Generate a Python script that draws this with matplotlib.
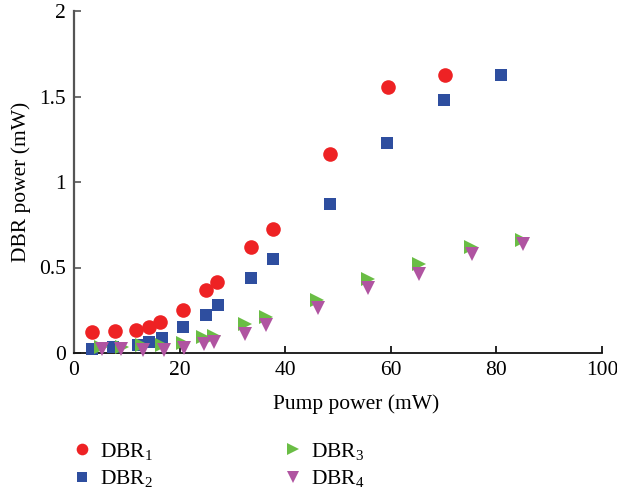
import matplotlib
matplotlib.use("Agg")
import matplotlib.pyplot as plt

plt.rcParams['font.family'] = ['Liberation Serif', 'DejaVu Serif']
plt.rcParams['mathtext.fontset'] = 'custom'
plt.rcParams['mathtext.rm'] = 'Liberation Serif'
plt.rcParams['mathtext.it'] = 'Liberation Serif:italic'

dbr1_x = [3.4, 7.7, 11.7, 14.2, 16.3, 20.6, 25.0, 27.1, 33.5, 37.7, 48.5, 59.4, 70.2]
dbr1_y = [0.123, 0.129, 0.133, 0.150, 0.181, 0.251, 0.366, 0.417, 0.620, 0.728, 1.165, 1.553, 1.625]

dbr2_x = [3.35, 7.4, 12.2, 14.2, 16.6, 20.7, 25.0, 27.3, 33.6, 37.7, 48.5, 59.2, 70.0, 80.8]
dbr2_y = [0.023, 0.033, 0.047, 0.064, 0.086, 0.150, 0.220, 0.279, 0.437, 0.548, 0.870, 1.228, 1.478, 1.624]

dbr3_x = [5.2, 9.0, 12.8, 16.6, 20.7, 24.5, 26.5, 32.3, 36.4, 46.1, 55.7, 65.4, 75.2, 84.9]
dbr3_y = [0.037, 0.037, 0.047, 0.047, 0.057, 0.095, 0.099, 0.170, 0.209, 0.310, 0.431, 0.519, 0.622, 0.661]

dbr4_x = [5.3, 8.9, 13.0, 17.0, 20.9, 24.6, 26.6, 32.4, 36.4, 46.2, 55.6, 65.4, 75.3, 85.0]
dbr4_y = [0.022, 0.022, 0.018, 0.018, 0.027, 0.053, 0.066, 0.109, 0.164, 0.265, 0.382, 0.462, 0.579, 0.636]

labels = ['DBR$_\\mathregular{1}$', 'DBR$_\\mathregular{2}$', 'DBR$_\\mathregular{3}$', 'DBR$_\\mathregular{4}$']
x_ticks = [0, 20, 40, 60, 80, 100]
y_ticks = [0, 0.5, 1, 1.5, 2]
y_ticklabels = ['0', '0.5', '1', '1.5', '2']

FS = 15.5
fig = plt.figure(figsize=(6.17, 4.88), dpi=100)
ax = fig.add_axes([74/617, 1-353/488, (602-74)/617, (353-11)/488])

h1, = ax.plot(dbr1_x, dbr1_y, 'o', color='#EE2224', markersize=10.5, markeredgewidth=0, label=labels[0], zorder=3)
h2, = ax.plot(dbr2_x, dbr2_y, 's', color='#2E4E9F', markersize=9.3, markeredgewidth=0, label=labels[1], zorder=4)
h3, = ax.plot(dbr3_x, dbr3_y, '>', color='#6ABD45', markersize=10, markeredgewidth=0, label=labels[2], zorder=5)
h4, = ax.plot(dbr4_x, dbr4_y, 'v', color='#B054A1', markersize=10, markeredgewidth=0, label=labels[3], zorder=6)

ax.set_xlim(0, 100)
ax.set_ylim(0, 2)
ax.set_xticks(x_ticks)
ax.set_yticks(y_ticks)
ax.set_yticklabels(y_ticklabels)
for s in ['top', 'right']:
    ax.spines[s].set_visible(False)
ax.spines['left'].set_color('#555555')
ax.spines['bottom'].set_color('#111111')
ax.spines['left'].set_linewidth(1.6)
ax.spines['bottom'].set_linewidth(1.3)
ax.tick_params(axis='both', direction='in', length=5, width=1.2, labelsize=FS, pad=6)
ax.tick_params(axis='y', color='#555555')
ax.set_xlabel('Pump power (mW)', fontsize=FS)
ax.set_ylabel('DBR power (mW)', fontsize=FS)
ax.xaxis.set_label_coords((356-74)/528, -(404-353)/342, transform=ax.transAxes)
ax.xaxis.label.set_va('center')
ax.yaxis.set_label_coords(-(74-21)/528, 0.5, transform=ax.transAxes)
ax.yaxis.label.set_va('center')
for a in [h1, h2, h3, h4]:
    a.set_clip_on(False)

fig.legend(handles=[h1, h2, h3, h4], loc='upper left', bbox_to_anchor=(71/617, 1-441/488),
           ncol=2, frameon=False, fontsize=FS, markerscale=0.8, handlelength=1.0,
           handletextpad=0.35, columnspacing=6.0, labelspacing=0.3,
           borderpad=0, borderaxespad=0)

fig.savefig('out.png', dpi=100)
